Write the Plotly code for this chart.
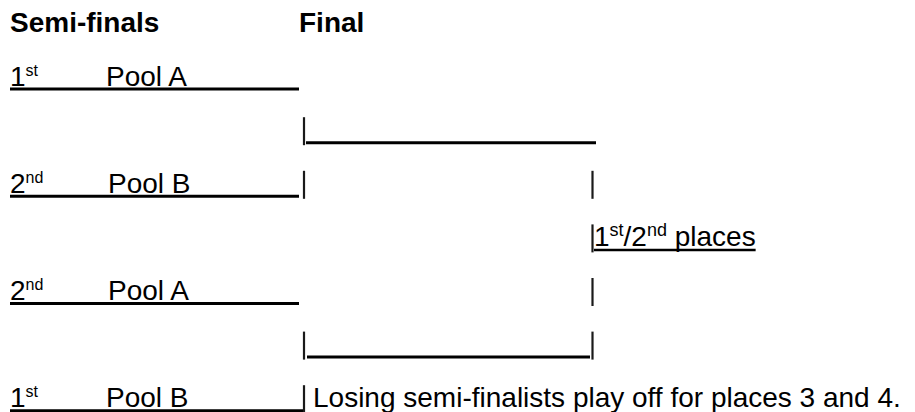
import plotly.graph_objects as go

# ---- content (data) ----
headers = ["Semi-finals", "Final"]
seed_ranks = ["1", "2", "2", "1"]
seed_suffixes = ["st", "nd", "nd", "st"]
pools = ["Pool A", "Pool B", "Pool A", "Pool B"]
final_ranks = ["1", "2"]
final_suffixes = ["st", "nd"]
final_word = "places"
playoff_note = "Losing semi-finalists play off for places 3 and 4."

# ---- layout constants ----
W, H = 915, 412
FS = 28
SUP_SEED, SUP_FINAL = 16, 18
SUP_RISE = 10                   # superscript baseline above main baseline
FONT = "Liberation Sans, Arial, Helvetica, sans-serif"
TOP, STEP = 32.0, 53.6          # baseline of header row and row pitch
UL = 3.5                        # underline offset below baseline

X0, XP1, XP2 = 10, 106, 108     # left margin, pool column (after 1st / 2nd)
XT = 299                        # tab column
XL = 304                        # left bracket pipe
XR = 592.5                      # right bracket pipe
XF = 594                        # final label start

# Arial / Liberation Sans advance widths (em/1000) for the few glyphs needed
ADV = {"1": 556, "2": 556, "/": 278, " ": 278, "s": 500, "t": 278, "n": 556,
       "d": 556, "p": 556, "l": 222, "a": 556, "c": 500, "e": 556}


def width(s, size):
    return sum(ADV[c] for c in s) * size / 1000.0


def base(r):
    return TOP + STEP * r


def ypt(baseline, size):
    # plotly 'middle' text puts the baseline 0.25*size below the anchor point
    return baseline - 0.25 * size


seed_rows = [1, 3, 5, 7]
final_row = 4

fig = go.Figure()

tx, ty, tt, ts = [], [], [], []


def put(x, baseline, text, size):
    tx.append(x)
    ty.append(ypt(baseline, size))
    tt.append(text)
    ts.append(size)


# headers
put(X0, base(0), "<b>%s</b>" % headers[0], FS)
put(XT, base(0), "<b>%s</b>" % headers[1], FS)

# seeds and pools
for r, rank, suf, pool in zip(seed_rows, seed_ranks, seed_suffixes, pools):
    put(X0, base(r), rank, FS)
    put(X0 + width(rank, FS), base(r) - SUP_RISE, suf, SUP_SEED)
    put(XP1 if suf == "st" else XP2, base(r), pool, FS)

# final label: 1st/2nd places
x = XF
b4 = base(final_row)
for i, (rank, suf) in enumerate(zip(final_ranks, final_suffixes)):
    main = ("/" if i else "") + rank
    put(x, b4, main, FS)
    x += width(main, FS)
    put(x, b4 - SUP_RISE, suf, SUP_FINAL)
    x += width(suf, SUP_FINAL)
put(x + width(" ", FS), b4, final_word, FS)
final_end = x + width(" " + final_word, FS)

# playoff note
put(313, base(7), playoff_note, FS)

fig.add_trace(go.Scatter(
    x=tx, y=ty, text=tt, mode="text", textposition="middle right",
    textfont=dict(family=FONT, size=ts, color="#000000"),
    hoverinfo="skip", showlegend=False,
))

# ---- underlines (thick) ----
hx, hy = [], []
for r in seed_rows:
    end = 305 if r == 7 else XT
    hx += [X0, end, None]
    hy += [base(r) + UL] * 2 + [None]
# bracket connectors
for r, (a, b) in zip([2, 6], [(306, 596), (307, 590)]):
    hx += [a, b, None]
    hy += [base(r) + UL] * 2 + [None]
fig.add_trace(go.Scatter(x=hx, y=hy, mode="lines",
                         line=dict(color="#000000", width=3),
                         hoverinfo="skip", showlegend=False))

# underline of final label
fig.add_trace(go.Scatter(x=[XF, final_end], y=[b4 + UL] * 2, mode="lines",
                         line=dict(color="#000000", width=2.5),
                         hoverinfo="skip", showlegend=False))

# ---- pipes ----
vx, vy = [], []
for r in [2, 3, 6, 7]:
    vx += [XL, XL, None]
    vy += [base(r) - 22, base(r) + 6, None]
for r in [3, 4, 5, 6]:
    vx += [XR, XR, None]
    vy += [base(r) - 22, base(r) + 6, None]
fig.add_trace(go.Scatter(x=vx, y=vy, mode="lines",
                         line=dict(color="#1a1a1a", width=2.2),
                         hoverinfo="skip", showlegend=False))

fig.update_layout(
    width=W, height=H,
    margin=dict(l=0, r=0, t=0, b=0),
    paper_bgcolor="white", plot_bgcolor="white",
    xaxis=dict(range=[0, W], visible=False, fixedrange=True),
    yaxis=dict(range=[H, 0], visible=False, fixedrange=True),
    showlegend=False,
)

fig.write_html(
    "out.html",
    config={"displayModeBar": False},
    post_script="document.body.style.margin='0';document.body.style.padding='0';"
                "document.body.style.overflow='hidden';",
)
